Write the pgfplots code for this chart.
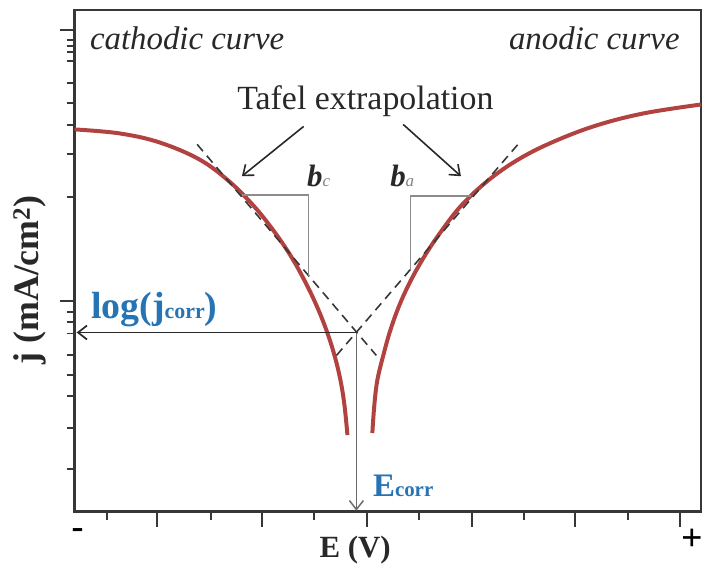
\documentclass[border=0pt]{standalone}
\usepackage{pgfplots}
\pgfplotsset{compat=1.18}
\usepackage{fontspec}
\setmainfont{Liberation Serif}
\usetikzlibrary{arrows.meta}
\definecolor{curvered}{RGB}{178,66,64}
\definecolor{corrblue}{RGB}{38,116,180}
\definecolor{axgray}{RGB}{55,55,55}
\definecolor{txtgray}{RGB}{40,40,40}
\definecolor{lightgray}{RGB}{140,140,140}
\begin{document}
\begin{tikzpicture}
\begin{axis}[
  scale only axis, width=629pt, height=504pt,
  xmin=75, xmax=704, ymin=58, ymax=562,
  clip=false,
  axis line style={axgray, line width=2.6pt},
  tick align=outside, tick pos=left,
  xtick={158,263,369,474,578,683},
  minor xtick={107,212,315,421,526,631},
  ytick={270,542},
  minor ytick={532,526,520,511,489,469,446,417,374,259,249,237,215,195,174,142,101},
  xticklabels={}, yticklabels={},
  major tick length=15pt, minor tick length=8pt,
  every tick/.style={axgray, line width=2pt},
  xlabel={\textbf{E (V)}},
  ylabel={\textbf{j (mA/cm\textsuperscript{2})}},
  xlabel style={at={(rel axis cs:0.448,-0.0774)}, anchor=center, font=\fontsize{31}{34}\selectfont, text=txtgray},
  ylabel style={at={(rel axis cs:-0.0715,0.462)}, anchor=center, rotate=0, font=\fontsize{36}{38}\selectfont, text=txtgray},
]
% invisible frame fixing the picture size
\path (axis cs:0,0) rectangle (axis cs:706,572);

% cathodic curve
\addplot[curvered, line width=4pt, smooth, tension=0.6] coordinates {
(75,442) (120,438) (160,429) (200,412) (230,390) (255,365) (275,340) (292,315)
(306,290) (318,265) (328,240) (336,215) (342,190) (346,165) (349,135)};
% anodic curve
\addplot[curvered, line width=4pt, smooth, tension=0.6] coordinates {
(374,137) (376,165) (379,190) (385,215) (392,240) (401,265) (412,289) (426,314)
(442,338) (462,364) (487,388) (516,409) (550,427) (596,445) (646,458) (704,467)};

% Tafel lines
\addplot[axgray, line width=1.6pt, dash pattern=on 9pt off 6pt] coordinates {(198,427) (378,215)};
\addplot[axgray, line width=1.6pt, dash pattern=on 9pt off 6pt] coordinates {(338,215) (522,429)};

% slope triangles
\addplot[lightgray, line width=1.3pt] coordinates {(243,376) (310,376) (310,295)};
\addplot[lightgray, line width=1.3pt] coordinates {(412,301) (412,375) (473,375)};

% corrosion arrows
\addplot[txtgray, line width=1.7pt, -{Straight Barb[length=9pt,width=14pt,line width=1.7pt]}] coordinates {(358,238) (77,238)};
\addplot[gray!85!black, line width=1.5pt, -{Straight Barb[length=9pt,width=14pt,line width=1.5pt]}] coordinates {(358,238) (358,59)};

% pointer arrows
\addplot[txtgray, line width=1.6pt, -{Straight Barb[length=9pt,width=14pt,line width=1.6pt]}] coordinates {(305,445) (243,395)};
\addplot[txtgray, line width=1.6pt, -{Straight Barb[length=9pt,width=14pt,line width=1.6pt]}] coordinates {(405,447) (463,395)};

% texts
\node[text=txtgray, font=\fontsize{34}{38}\selectfont] at (axis cs:367,470) {Tafel extrapolation};
\node[text=txtgray, font=\fontsize{33}{36}\selectfont\itshape] at (axis cs:188,534) {cathodic curve};
\node[text=txtgray, font=\fontsize{33}{36}\selectfont\itshape] at (axis cs:597,534) {anodic curve};
\node[text=txtgray, font=\fontsize{31}{34}\selectfont\itshape] at (axis cs:320,395) {\textbf{b}{\fontsize{17}{18}\selectfont\color{gray}c}};
\node[text=txtgray, font=\fontsize{31}{34}\selectfont\itshape] at (axis cs:404,395) {\textbf{b}{\fontsize{17}{18}\selectfont\color{gray}a}};
\node[text=corrblue, font=\fontsize{38}{40}\selectfont\bfseries] at (axis cs:155,261) {log(j{\fontsize{22}{24}\selectfont corr})};
\node[text=corrblue, font=\fontsize{33}{36}\selectfont\bfseries] at (axis cs:405,84) {E{\fontsize{21}{24}\selectfont corr}};
\node[text=black, font=\fontsize{36}{38}\selectfont\bfseries] at (axis cs:78,36) {-};
\node[text=black, font=\fontsize{38}{40}\selectfont\bfseries] at (axis cs:695,30) {+};
\end{axis}
\end{tikzpicture}
\end{document}
